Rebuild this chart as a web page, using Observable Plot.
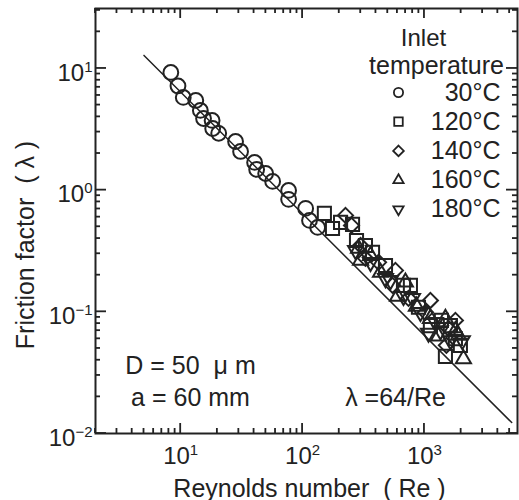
<!DOCTYPE html>
<html><head><meta charset="utf-8">
<script src="https://cdn.jsdelivr.net/npm/d3@7"></script>
<script src="https://cdn.jsdelivr.net/npm/@observablehq/plot@0.6"></script>
<style>
html,body{margin:0;padding:0;background:#fff;overflow:hidden;}
</style></head><body><div id="chart"></div>
<script>
// ---- data ----
const seriesNames = ["30°C", "120°C", "140°C", "160°C", "180°C"];
const seriesSymbols = ["circle", "square", "diamond2", "triangle", "triangle"];
const seriesRotate = [0, 0, 0, 0, 180];

const re30  = [8.3, 9.5, 10.5, 13.3, 14.5, 15.4, 18.1, 18.3, 20.5, 28.2, 31.0, 40.4, 42.0, 49.8, 56.8, 76.8, 76.8, 106, 114, 133];
const lam30 = [9.27, 7.18, 5.78, 5.46, 4.52, 3.88, 3.74, 3.21, 2.93, 2.51, 2.08, 1.69, 1.48, 1.37, 1.18, 0.995, 0.84, 0.708, 0.564, 0.494];
const re120  = [151, 176, 205, 257, 277, 328, 375, 479, 673, 767, 893, 1119, 1378, 1486, 1633, 1795, 1972];
const lam120 = [0.644, 0.484, 0.543, 0.523, 0.386, 0.351, 0.308, 0.240, 0.165, 0.165, 0.109, 0.077, 0.085, 0.043, 0.077, 0.060, 0.053];
const re140  = [225, 252, 299, 328, 420, 547, 578, 740, 1019, 1119, 1514, 1574, 1795];
const lam140 = [0.62, 0.513, 0.351, 0.275, 0.255, 0.165, 0.219, 0.129, 0.099, 0.124, 0.053, 0.073, 0.085];
const re160  = [288, 299, 361, 436, 601, 698, 859, 1119, 1303, 1486, 1795, 1900, 2089];
const lam160 = [0.332, 0.264, 0.290, 0.211, 0.134, 0.175, 0.111, 0.088, 0.063, 0.088, 0.070, 0.064, 0.041];
const re180  = [272, 361, 479, 526, 673, 798, 927, 1079, 1230, 1352, 1633, 2046];
const lam180 = [0.320, 0.255, 0.188, 0.181, 0.134, 0.129, 0.099, 0.067, 0.082, 0.070, 0.058, 0.058];

// theoretical line lambda = 64/Re, end points
const lineRe  = [5, 5200];
const lineLam = [12.8, 0.0123];

const xMajor = [10, 100, 1000];
const xMinor = [2,3,4,5,6,7,8,9,20,30,40,50,60,70,80,90,200,300,400,500,600,700,800,900,2000,3000,4000,5000];
const yMajor = [0.01, 0.1, 1, 10];
const yMinor = [0.02,0.03,0.04,0.05,0.06,0.07,0.08,0.09,0.2,0.3,0.4,0.5,0.6,0.7,0.8,0.9,2,3,4,5,6,7,8,9,20,30];

const xLabel = "Reynolds number\u00a0\u00a0( Re )";
const yLabel = "Friction factor\u00a0\u00a0( λ )";
const legendTitle1 = "Inlet";
const legendTitle2 = "temperature";
const note1 = "D = 50\u00a0\u00a0μ m";
const note2 = "a = 60 mm";
const note3 = "λ =64/Re";

// ---- build ----
const ink = "#222";
const W = 519, H = 500, ML = 95, MR = 2, MT = 8, MB = 67;
const frameW = W - ML - MR, frameH = H - MT - MB;
const seriesRe = [re30, re120, re140, re160, re180];
const seriesLam = [lam30, lam120, lam140, lam160, lam180];
const seriesR = [7.4, 7.4, 6.8, 5.6, 5.6];
const legendR = [4.6, 4.8, 4.8, 3.8, 3.8];

const table = seriesNames.map((name, i) => seriesRe[i].map((re, j) => ({series: name, re, lam: seriesLam[i][j]})));
const lineData = lineRe.map((re, i) => ({re, lam: lineLam[i]}));

const expFmt = d => {
  const k = Math.round(Math.log10(d));
  return "10^" + (k < 0 ? "\u2212" + (-k) : String(k));
};

const dotMarks = table.map((rows, i) => Plot.dot(rows, {
  x: "re", y: "lam", symbol: seriesSymbols[i], rotate: seriesRotate[i],
  r: seriesR[i], stroke: ink, strokeWidth: 2, fill: "none"
}));

const legendMarks = seriesNames.flatMap((name, i) => [
  Plot.dot([name], {frameAnchor: "top-right", dx: -119, dy: 84 + 29.2 * i,
    symbol: seriesSymbols[i], rotate: seriesRotate[i], r: legendR[i], stroke: ink, strokeWidth: 1.8, fill: "none"}),
  Plot.text([name], {frameAnchor: "top-right", dx: -17, dy: 84 + 29.2 * i, text: d => d,
    textAnchor: "end", lineAnchor: "middle", fontSize: 25, fill: ink})
]);

// inward ticks as thin rects spanning only the edge strip of the frame
const HALF = 0.9;
const tickMark = (values, axis, edge, len) => {
  const o = {fill: ink};
  if (axis === "x") {
    o.x1 = d => d; o.x2 = d => d; o.insetLeft = -HALF; o.insetRight = -HALF;
    if (edge === "bottom") o.insetTop = frameH - len; else o.insetBottom = frameH - len;
  } else {
    o.y1 = d => d; o.y2 = d => d; o.insetTop = -HALF; o.insetBottom = -HALF;
    if (edge === "left") o.insetRight = frameW - len; else o.insetLeft = frameW - len;
  }
  return Plot.rect(values, o);
};
const MAJ = 10, MIN = 5;

const chart = Plot.plot({
  width: W,
  height: H,
  marginLeft: ML,
  marginRight: MR,
  marginTop: MT,
  marginBottom: MB,
  style: {fontFamily: "'Liberation Sans', Arial, Helvetica, sans-serif", fontSize: "24px", color: ink, background: "#fff"},
  x: {type: "log", domain: [2, 5800]},
  y: {type: "log", domain: [0.01, 31.1]},
  marks: [
    // tick labels (library axes)
    Plot.axisX(xMajor, {anchor: "bottom", tickSize: 0, tickPadding: 13, tickFormat: expFmt, label: null, fontSize: 24, fill: ink}),
    Plot.axisY(yMajor, {anchor: "left", tickSize: 0, tickPadding: 3, tickFormat: expFmt, label: null, fontSize: 24, fill: ink, dy: 4.5}),
    Plot.frame({stroke: ink, strokeWidth: 2, fill: "none"}),
    // inward ticks on all four sides
    tickMark(xMajor, "x", "bottom", MAJ),
    tickMark(xMinor, "x", "bottom", MIN),
    tickMark(xMajor, "x", "top", MAJ),
    tickMark(xMinor, "x", "top", MIN),
    tickMark(yMajor, "y", "left", MAJ + 1),
    tickMark(yMinor, "y", "left", MIN),
    tickMark(yMajor, "y", "right", MAJ + 1),
    tickMark(yMinor, "y", "right", MIN),
    // theory line
    Plot.line(lineData, {x: "re", y: "lam", stroke: ink, strokeWidth: 1.5}),
    ...dotMarks,
    // legend
    Plot.text([legendTitle1], {frameAnchor: "top-right", dx: -94, dy: 30, text: d => d, textAnchor: "middle", lineAnchor: "middle", fontSize: 24, fill: ink}),
    Plot.text([legendTitle2], {frameAnchor: "top-right", dx: -81, dy: 57, text: d => d, textAnchor: "middle", lineAnchor: "middle", fontSize: 25, fill: ink}),
    ...legendMarks,
    // notes
    Plot.text([note1], {frameAnchor: "bottom-left", dx: 95, dy: -68, text: d => d, textAnchor: "middle", lineAnchor: "middle", fontSize: 25, fill: ink}),
    Plot.text([note2], {frameAnchor: "bottom-left", dx: 95, dy: -36, text: d => d, textAnchor: "middle", lineAnchor: "middle", fontSize: 25, fill: ink}),
    Plot.text([note3], {frameAnchor: "bottom-left", dx: 300, dy: -36, text: d => d, textAnchor: "middle", lineAnchor: "middle", fontSize: 25, fill: ink}),
    // axis titles
    Plot.text([xLabel], {frameAnchor: "bottom", dx: 3, dy: 55, text: d => d, textAnchor: "middle", lineAnchor: "middle", fontSize: 25, fill: ink}),
    Plot.text([yLabel], {frameAnchor: "left", dx: -70, dy: 24, rotate: -90, text: d => d, textAnchor: "middle", lineAnchor: "middle", fontSize: 25, fill: ink})
  ]
});

// superscript exponents in tick labels
const svgNS = "http://www.w3.org/2000/svg";
chart.querySelectorAll("text").forEach(t => {
  const m = /^10\^(.+)$/.exec(t.textContent);
  if (m) {
    t.textContent = "10";
    const ts = document.createElementNS(svgNS, "tspan");
    ts.setAttribute("dy", "-0.6em");
    ts.setAttribute("font-size", "15");
    ts.textContent = m[1];
    t.appendChild(ts);
  }
});
document.getElementById("chart").appendChild(chart);
</script>
</body></html>
